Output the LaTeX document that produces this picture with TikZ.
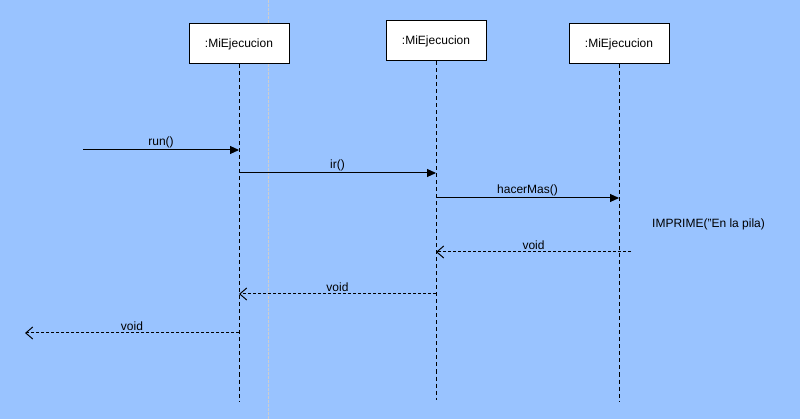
\documentclass[tikz,border=0pt]{standalone}
\usepackage{fontspec}
\setmainfont{Liberation Sans}
\usetikzlibrary{arrows.meta}
\definecolor{fondo}{RGB}{153,195,255}
\definecolor{guia}{RGB}{205,205,205}

\begin{document}
\begin{tikzpicture}[x=1pt, y=-1pt, font=\fontsize{12}{14}\selectfont,
        objeto/.style={draw=black, fill=white, line width=1pt, minimum width=100pt, minimum height=40pt, inner sep=0pt},
        vida/.style={line width=1pt, dash pattern=on 4pt off 3pt},
        llamada/.style={line width=1pt, -{Triangle[length=9pt,width=8pt]}},
        retorno/.style={line width=1pt, dash pattern=on 3pt off 2pt, -{Straight Barb[length=7pt,width=12pt]}},
        etiqueta/.style={above, inner sep=2pt}]

            % Background
            \fill[fondo] (0,0) rectangle (800,419);
            \useasboundingbox (0,0) rectangle (800,419);
            \draw[guia, line width=1pt, dash pattern=on 3pt off 1pt] (268,0) -- (268,419);

            % Objects
            \node[objeto] (ejec1) at (239,44) {:MiEjecucion};
            \node[objeto] (ejec2) at (436,41) {:MiEjecucion};
            \node[objeto] (ejec3) at (619,44) {:MiEjecucion};

            % Lifelines
            \coordinate (fin1) at (239,402);
            \coordinate (fin2) at (436,400);
            \coordinate (fin3) at (619,402);
            \draw[vida] (ejec1.south) -- (fin1);
            \draw[vida] (ejec2.south) -- (fin2);
            \draw[vida] (ejec3.south) -- (fin3);

            % Calls
            \coordinate (inicio) at (83,150);
            \coordinate (nivelIr) at (0,173);
            \coordinate (nivelMas) at (0,198);
            \draw[llamada] (inicio) -- (inicio -| ejec1) node[etiqueta, midway] {run()};
            \draw[llamada] (nivelIr -| ejec1) -- (nivelIr -| ejec2) node[etiqueta, midway] {ir()};
            \draw[llamada] (nivelMas -| ejec2) -- (nivelMas -| ejec3) node[etiqueta, midway] {hacerMas()};

            \node[anchor=west, inner sep=0pt] (imprime) at (652,224) {IMPRIME("En la pila)};

            % Returns
            \coordinate (vuelta3) at (631,252);
            \coordinate (nivelV2) at (0,294);
            \coordinate (salida) at (25,333);
            \draw[retorno] (vuelta3) -- (vuelta3 -| ejec2) node[etiqueta, midway] {void};
            \draw[retorno] (nivelV2 -| ejec2) -- (nivelV2 -| ejec1) node[etiqueta, midway] {void};
            \draw[retorno] (salida -| ejec1) -- (salida) node[etiqueta, midway] {void};

\end{tikzpicture}
\end{document}
